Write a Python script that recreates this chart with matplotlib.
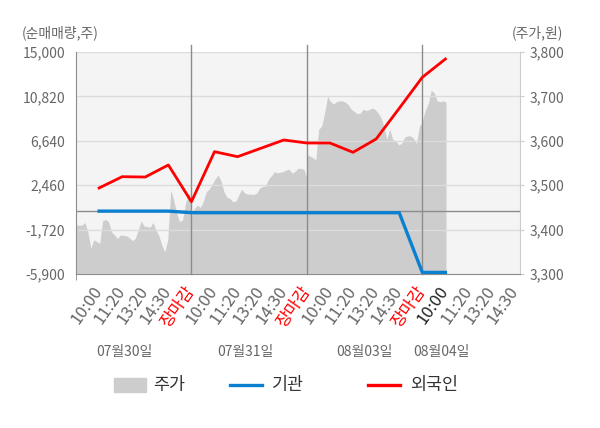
import numpy as np
import matplotlib
matplotlib.use("Agg")
import matplotlib.pyplot as plt
from matplotlib.lines import Line2D
from matplotlib.patches import Rectangle
from matplotlib.ticker import FuncFormatter
import matplotlib.transforms as mtransforms

plt.rcParams["font.family"] = ["Noto Sans CJK KR", "DejaVu Sans"]

# =====================================================
# data
# =====================================================

days = ["07월30일", "07월31일", "08월03일", "08월04일"]
tick_names = ["10:00", "11:20", "13:20", "14:30", "장마감"]

# 주가 (원), one value every 10 index steps within a day
price_d1 = [3410, 3410, 3410, 3416, 3395, 3358, 3377, 3373, 3369, 3420,
            3423, 3418, 3395, 3388, 3380, 3388, 3387, 3386, 3382, 3375,
            3380, 3399, 3419, 3408, 3407, 3405, 3416, 3399, 3386, 3365,
            3350, 3377, 3489, 3467, 3437, 3418, 3422, 3459, 3482, 3470]
price_d2 = [3430, 3448, 3455, 3450, 3463, 3485, 3491, 3502, 3514, 3523,
            3509, 3485, 3473, 3470, 3463, 3464, 3478, 3491, 3482, 3480,
            3480, 3479, 3482, 3493, 3497, 3498, 3513, 3521, 3530, 3528,
            3529, 3531, 3534, 3536, 3527, 3531, 3538, 3538, 3536, 3515]
price_d3 = [3568, 3566, 3562, 3557, 3626, 3633, 3663, 3700, 3688, 3683,
            3688, 3690, 3690, 3687, 3681, 3671, 3666, 3661, 3662, 3671,
            3668, 3670, 3674, 3671, 3663, 3653, 3632, 3604, 3626, 3603,
            3600, 3591, 3594, 3608, 3611, 3611, 3606, 3594, 3632, 3643]
price_d4 = [3645, 3669, 3684, 3714, 3708, 3690, 3688, 3690, 3687]

# 순매매량 (주), one value per tick position
foreign = [2196, 3261, 3230, 4362, 907,
           5615, 5145, 5930, 6716, 6433,
           6433, 5557, 6810, 9700, 12618,
           14341]
inst = [20, 20, 20, 20, -130,
        -130, -130, -130, -130, -130,
        -130, -130, -130, -130, -5750,
        -5750]

left_ticks = [-5900, -1720, 2460, 6640, 10820, 15000]
right_ticks = [3300, 3400, 3500, 3600, 3700, 3800]

# =====================================================
# layout
# =====================================================

DAY_LEN = 390
STEP = 10
X_MAX = 1500
date_label_pos = [165, 571, 976, 1233]

C_GRAY_TXT = "#666666"
C_AREA = "#cdcdcd"
C_BLUE = "#0a80d0"
C_RED = "#ff0000"

fig = plt.figure(figsize=(6, 4.28), dpi=100)
ax = fig.add_axes([76 / 600, 1 - 274 / 428, 444 / 600, 222 / 428])
ax2 = ax.twinx()
ax.set_zorder(2)
ax2.set_zorder(1)
ax.patch.set_visible(False)
ax2.patch.set_visible(True)
ax2.patch.set_facecolor("#f4f4f4")

# price area
for d, prices in enumerate([price_d1, price_d2, price_d3, price_d4]):
    xp = d * DAY_LEN + np.arange(len(prices)) * STEP
    ax2.fill_between(xp, prices, 3300, color=C_AREA, lw=0)

ax2.set_ylim(3300, 3800)
ax2.set_yticks(right_ticks)
ax2.yaxis.set_major_formatter(FuncFormatter(lambda v, p: f"{int(v):,}"))
ax2.tick_params(axis="y", length=3, color="#cccccc", pad=4,
                labelsize=10, labelcolor=C_GRAY_TXT)
for s in ["left", "top", "bottom"]:
    ax2.spines[s].set_visible(False)
ax2.spines["right"].set_color("#cccccc")

# net buying lines
sub = DAY_LEN / 5
xs = [d * DAY_LEN + k * sub for d in range(4) for k in range(1, 6)][:len(foreign)]

ax.set_ylim(left_ticks[0], left_ticks[-1])
ax.set_yticks(left_ticks)
ax.yaxis.set_major_formatter(FuncFormatter(lambda v, p: f"{int(v):,}"))
ax.yaxis.grid(True, color="#dcdcdc", lw=1)
ax.set_axisbelow(True)
ax.axhline(0, color="#8c8c8c", lw=1, zorder=1.5)
for d in range(1, 4):
    ax.axvline(d * DAY_LEN, ymin=0, ymax=1.032, color="#8c8c8c", lw=1,
               clip_on=False, zorder=1.5)

ax.plot(xs, inst, color=C_BLUE, lw=2.4, zorder=3)
ax.plot(xs, foreign, color=C_RED, lw=2, zorder=4)

ax.set_xlim(0, X_MAX)
tick_pos = []
tick_lab = []
for d in range(4):
    for k in range(1, 6):
        x = d * DAY_LEN + k * sub
        if x <= X_MAX:
            tick_pos.append(x)
            tick_lab.append(tick_names[k - 1])
ax.set_xticks(tick_pos)
ax.set_xticklabels(tick_lab, rotation=55, ha="right", va="center",
                   rotation_mode="anchor", fontsize=12)
ax.tick_params(axis="x", which="major", length=0, pad=10)
for i, t in enumerate(ax.get_xticklabels()):
    if t.get_text() == "장마감":
        t.set_color(C_RED)
    elif i == 15:
        t.set_color("#222222")
    else:
        t.set_color(C_GRAY_TXT)
ax.set_xticks([d * DAY_LEN for d in range(4)], minor=True)
ax.tick_params(axis="x", which="minor", length=4, color="#8c8c8c")

ax.tick_params(axis="y", length=0, pad=8, labelsize=10, labelcolor=C_GRAY_TXT)
ax.spines["top"].set_visible(False)
ax.spines["right"].set_visible(False)
ax.spines["left"].set_color("#8c8c8c")
ax.spines["bottom"].set_color("#8c8c8c")

# date labels
trans = mtransforms.blended_transform_factory(ax.transData, ax.transAxes)
for x, name in zip(date_label_pos, days):
    ax.text(x, -0.351, name, transform=trans, ha="center", va="center",
            fontsize=10, color=C_GRAY_TXT)

# axis titles
fig.text(22 / 600, 1 - 33 / 428, "(순매매량,주)", ha="left", va="center",
         fontsize=10, color=C_GRAY_TXT)
fig.text(563 / 600, 1 - 33 / 428, "(주가,원)", ha="right", va="center",
         fontsize=10, color=C_GRAY_TXT)

# legend
ly = 1 - 385 / 428
fig.add_artist(Rectangle((114 / 600, 1 - 392 / 428), 32 / 600, 14 / 428,
                         color=C_AREA, transform=fig.transFigure))
fig.text(153 / 600, ly, "주가", ha="left", va="center", fontsize=12.5, color="#333333")
fig.add_artist(Line2D([230 / 600, 262 / 600], [ly, ly], color=C_BLUE, lw=2.4,
                      transform=fig.transFigure))
fig.text(272 / 600, ly, "기관", ha="left", va="center", fontsize=12.5, color="#333333")
fig.add_artist(Line2D([368 / 600, 400 / 600], [ly, ly], color=C_RED, lw=2.4,
                      transform=fig.transFigure))
fig.text(410 / 600, ly, "외국인", ha="left", va="center", fontsize=12.5, color="#333333")

fig.savefig("out.png", dpi=100)
